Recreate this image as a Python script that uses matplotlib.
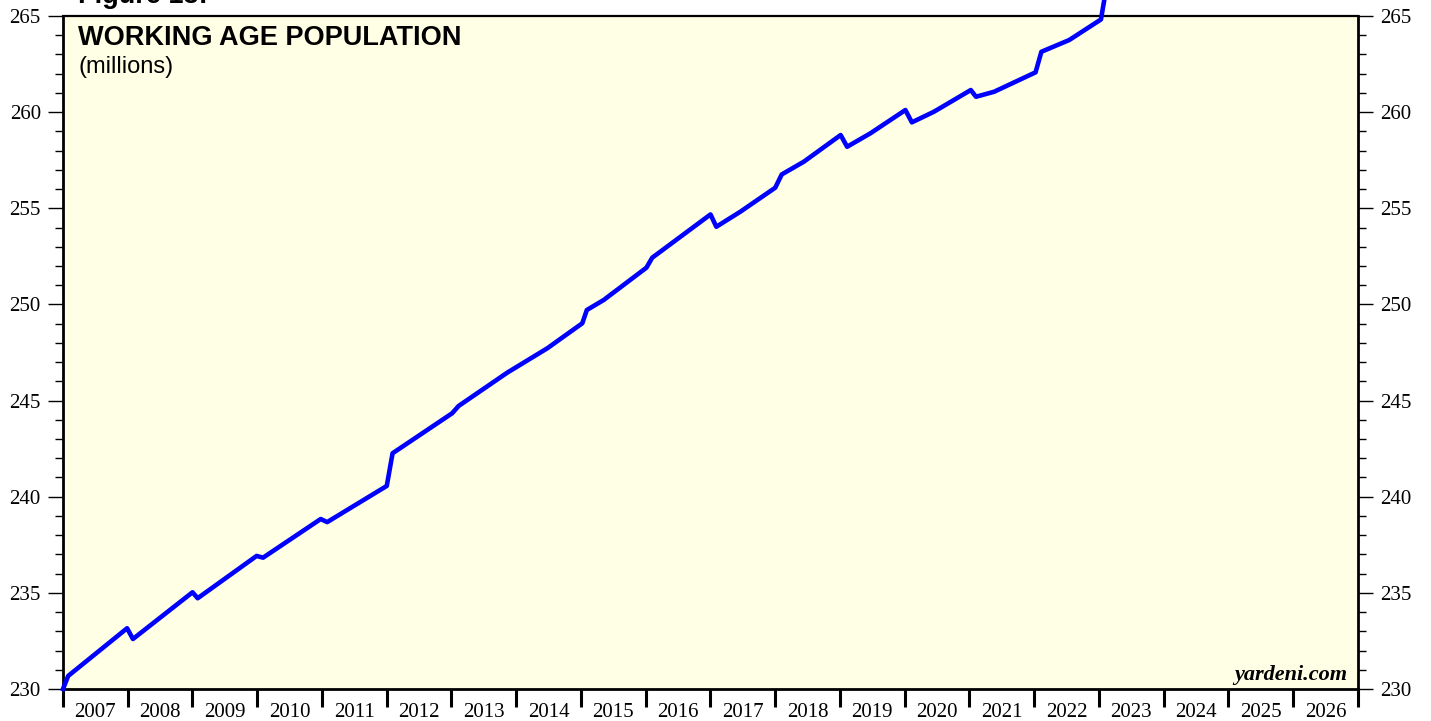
import matplotlib
matplotlib.use("Agg")
import matplotlib.pyplot as plt
from matplotlib.ticker import MultipleLocator, FixedLocator, NullFormatter

# Working age population (millions)
dates = [2007.00, 2007.08, 2007.99, 2008.08, 2009.00, 2009.08, 2009.99, 2010.09,
         2010.98, 2011.08, 2012.00, 2012.09, 2013.01, 2013.11, 2013.86, 2014.48,
         2015.02, 2015.09, 2015.35, 2016.01, 2016.10, 2017.00, 2017.09, 2017.46,
         2018.00, 2018.10, 2018.44, 2019.01, 2019.11, 2019.47, 2020.01, 2020.11,
         2020.45, 2021.02, 2021.10, 2021.38, 2022.02, 2022.11, 2022.54, 2023.03,
         2023.10]
population = [230.00, 230.68, 233.16, 232.60, 235.03, 234.72, 236.92, 236.83,
              238.84, 238.68, 240.56, 242.26, 244.34, 244.72, 246.45, 247.72,
              249.02, 249.71, 250.23, 251.91, 252.43, 254.68, 254.04, 254.82,
              256.07, 256.76, 257.42, 258.81, 258.20, 258.90, 260.11, 259.47,
              260.02, 261.15, 260.80, 261.06, 262.07, 263.14, 263.75, 264.82,
              266.20]

year_labels = [str(y) for y in range(2007, 2027)]
serif = "Liberation Serif"
sans = "Liberation Sans"

fig = plt.figure(figsize=(14.31, 7.21), dpi=100)
ax = fig.add_axes([63 / 1431, 1 - 689 / 721, 1295 / 1431, 673 / 721])
ax.set_facecolor("#FFFFE6")

ax.plot(dates, population, color="#0000FF", lw=3.3, clip_on=False, zorder=5)

ax.set_xlim(2007, 2027)
ax.set_ylim(230, 265)

# y axis: ticks and labels on both sides
ax.yaxis.set_major_locator(MultipleLocator(5))
ax.yaxis.set_minor_locator(MultipleLocator(1))
ax.tick_params(axis="y", which="both", left=True, right=True,
               labelleft=True, labelright=True, direction="out")
ax.tick_params(axis="y", which="major", length=11, width=1, pad=5,
               labelsize=15)
ax.tick_params(axis="y", which="minor", length=5.5, width=1)

# x axis: ticks at year boundaries, labels centred in each year
ax.xaxis.set_major_locator(FixedLocator(range(2007, 2028)))
ax.xaxis.set_major_formatter(NullFormatter())
ax.xaxis.set_minor_locator(FixedLocator([y + 0.5 for y in range(2007, 2027)]))
ax.set_xticklabels(year_labels, minor=True)
ax.tick_params(axis="x", which="major", length=13, width=2.2, direction="out")
ax.tick_params(axis="x", which="minor", length=0, pad=10, labelsize=15)

for lab in ax.get_xticklabels(minor=True) + ax.yaxis.get_ticklabels(which="both"):
    lab.set_fontfamily(serif)

for side in ["left", "right", "bottom"]:
    ax.spines[side].set_linewidth(2)
ax.spines["top"].set_linewidth(1.6)

ax.text(78 / 1431, 1 - 45 / 721, "WORKING AGE POPULATION", transform=fig.transFigure,
        fontsize=19.5, fontweight="bold", family=sans, va="baseline")
ax.text(78 / 1431, 1 - 73 / 721, "(millions)", transform=fig.transFigure,
        fontsize=17, family=sans, va="baseline")
fig.text(78 / 1431, 1 - 3 / 721, "Figure 13:", fontsize=19.5, fontweight="bold",
         family=sans, va="baseline")
ax.text(0.9915, 0.0134, "yardeni.com", transform=ax.transAxes, fontsize=16,
        fontweight="bold", fontstyle="italic", family=serif, ha="right",
        va="baseline")

fig.savefig("out.png", dpi=100)
